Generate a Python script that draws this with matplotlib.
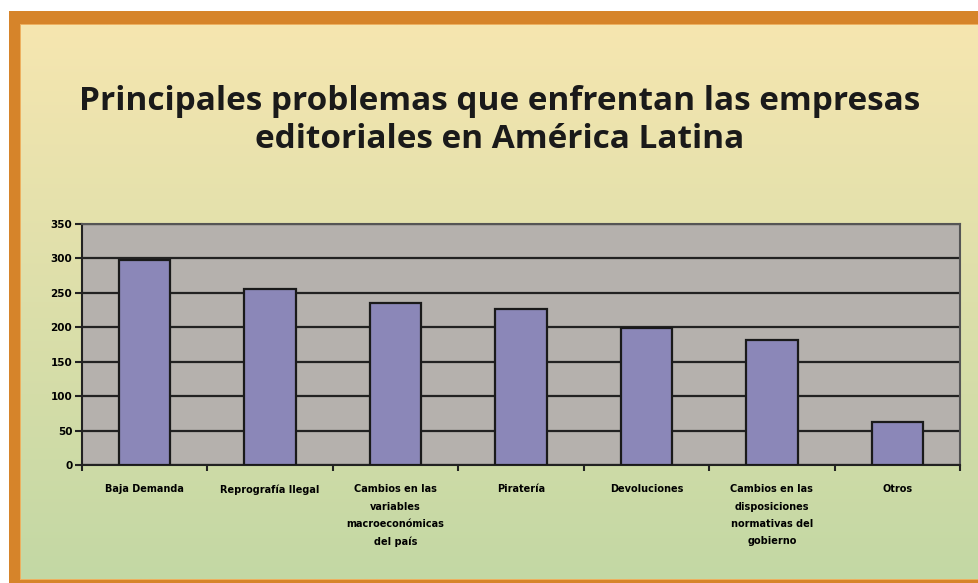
import matplotlib
matplotlib.use("Agg")
import matplotlib.pyplot as plt
import numpy as np
from matplotlib.patches import Rectangle

categories = ["Baja Demanda", "Reprografía Ilegal",
              "Cambios en las\nvariables\nmacroeconómicas\ndel país",
              "Piratería", "Devoluciones",
              "Cambios en las\ndisposiciones\nnormativas del\ngobierno",
              "Otros"]
values = [297, 255, 235, 226, 199, 182, 63]
yticks = [0, 50, 100, 150, 200, 250, 300, 350]
title = "Principales problemas que enfrentan las empresas\neditoriales en América Latina"

W, H = 979, 583
fig = plt.figure(figsize=(W/100, H/100), dpi=100)
fig.patch.set_facecolor("white")

def fx(x): return x / W
def fy(y): return 1 - y / H

# orange frame
fig.patches.append(Rectangle((fx(9), fy(583)), fx(979-9), fy(11)-fy(583),
                             transform=fig.transFigure, facecolor="#D6842A",
                             edgecolor="none", zorder=0))
fig.patches.append(Rectangle((fx(20), fy(580)), fx(979-20), fy(24)-fy(580),
                             transform=fig.transFigure, facecolor="#EDB060",
                             edgecolor="none", zorder=0.2))
# gradient panel
bg = fig.add_axes([fx(21), fy(579), fx(978-21), fy(25)-fy(579)], zorder=0.5)
top = np.array([0xF6, 0xE6, 0xB0]) / 255
bot = np.array([0xC3, 0xD8, 0xA4]) / 255
t = np.linspace(0, 1, 256)[:, None]
grad = top[None, :] * (1 - t) + bot[None, :] * t
bg.imshow(grad[:, None, :].repeat(2, axis=1), aspect="auto", extent=[0, 1, 0, 1])
bg.set_axis_off()

ax = fig.add_axes([fx(82), fy(465), fx(960-82), fy(224)-fy(465)], zorder=2)
ax.set_facecolor("#B5B1AD")
x = np.arange(len(categories))
ax.bar(x, values, width=0.41, color="#8B87B8", edgecolor="#1a1a1a",
       linewidth=1.6, zorder=3)
ax.set_xlim(-0.5, len(categories) - 0.5)
ax.set_ylim(0, 350)
ax.set_yticks(yticks)
ax.set_yticklabels([str(v) for v in yticks], fontsize=7.5, fontweight="bold",
                   family=["Liberation Sans Narrow", "DejaVu Sans"])
ax.yaxis.grid(True, color="#222222", linewidth=1.6, zorder=1)
ax.set_axisbelow(True)
ax.set_xticks(x)
ax.set_xticklabels(categories, fontsize=7, fontweight="bold", linespacing=1.9,
                   family=["Liberation Sans Narrow", "DejaVu Sans"], va="top")
ax.tick_params(axis="x", length=0, pad=14)
ax.set_xticks(np.arange(len(categories) + 1) - 0.5, minor=True)
ax.tick_params(axis="x", which="minor", length=4, width=1.5, color="#222222")
ax.tick_params(axis="y", length=5, width=1.5, color="#222222", pad=2)
for s in ["top", "right"]:
    ax.spines[s].set_color("#555555")
    ax.spines[s].set_linewidth(1.5)
for s in ["left", "bottom"]:
    ax.spines[s].set_color("#222222")
    ax.spines[s].set_linewidth(1.5)

fig.text(fx(500), fy(120), title, ha="center", va="center", fontsize=24,
         fontweight="bold", family=["Open Sans", "DejaVu Sans"], color="#1a1a1a",
         linespacing=1.2, zorder=3)

fig.savefig("out.png", dpi=100, facecolor=fig.get_facecolor())
